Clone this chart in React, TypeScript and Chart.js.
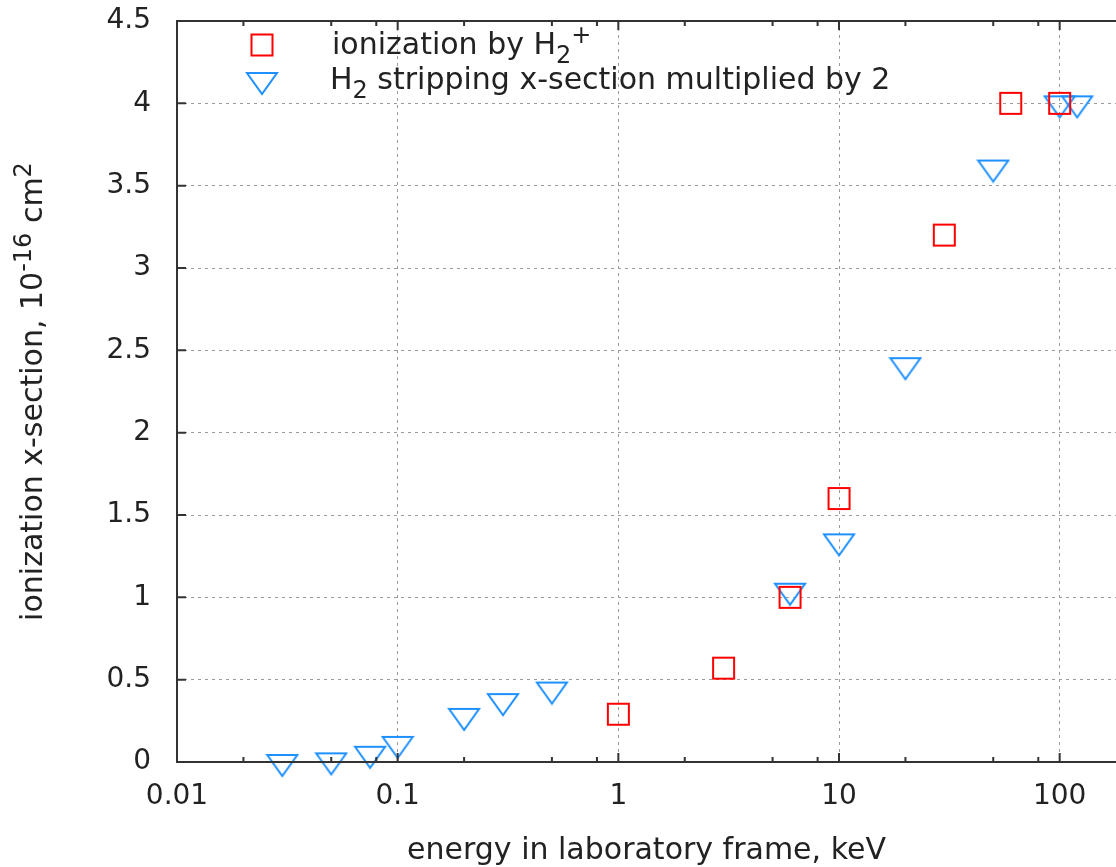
import { useEffect, useRef } from 'react';
import { Chart, registerables } from 'chart.js';

Chart.register(...registerables);

// ---- data ----
const energyIonization = [1, 3, 6, 10, 30, 60, 100];
const ionizationByH2p = [0.29, 0.57, 1.0, 1.6, 3.2, 4.0, 4.0];

const energyStripping = [0.03, 0.05, 0.075, 0.1, 0.2, 0.3, 0.5, 6, 10, 20, 50, 100, 120];
const strippingTimes2 = [0.0, 0.01, 0.05, 0.11, 0.28, 0.37, 0.44, 1.04, 1.34, 2.41, 3.61, 4.0, 4.0];

const xMajorTicks = [0.01, 0.1, 1, 10, 100];
const xMinorMultipliers = [2, 5, 8];
const yTicks = [0, 0.5, 1, 1.5, 2, 2.5, 3, 3.5, 4, 4.5];

const FONT = 'DejaVu Sans';
const FS_TICK = 28;
const FS_TEXT = 30;
const TEXT = '#222222';
const RED = '#ff0000';
const BLUE = '#1e90ff';

type Seg = { t: string; k?: 'sup' | 'sub' };

function drawRich(ctx: CanvasRenderingContext2D, segs: Seg[], x: number, y: number, F: number, align: 'left' | 'center') {
  const fontOf = (s: Seg) => `${s.k ? Math.round(F * 0.8) : F}px "${FONT}"`;
  const widths = segs.map((s) => {
    ctx.font = fontOf(s);
    return ctx.measureText(s.t).width;
  });
  const total = widths.reduce((a, b) => a + b, 0);
  let cx = align === 'center' ? x - total / 2 : x;
  ctx.textAlign = 'left';
  ctx.textBaseline = 'alphabetic';
  segs.forEach((s, i) => {
    ctx.font = fontOf(s);
    const dy = s.k === 'sup' ? -0.37 * F : s.k === 'sub' ? 0.3 * F : 0;
    ctx.fillText(s.t, cx, y + dy);
    cx += widths[i];
  });
}

function makeSquare(): HTMLCanvasElement {
  const c = document.createElement('canvas');
  c.width = 25;
  c.height = 25;
  const g = c.getContext('2d')!;
  g.strokeStyle = RED;
  g.lineWidth = 2;
  g.strokeRect(2, 2, 21, 21);
  return c;
}

function makeTriangle(): HTMLCanvasElement {
  const c = document.createElement('canvas');
  c.width = 34;
  c.height = 32;
  const g = c.getContext('2d')!;
  g.strokeStyle = BLUE;
  g.lineWidth = 2;
  g.beginPath();
  g.moveTo(2, 9);
  g.lineTo(32, 9);
  g.lineTo(17, 30);
  g.closePath();
  g.stroke();
  return c;
}

export default function App() {
  const ref = useRef<HTMLCanvasElement | null>(null);

  useEffect(() => {
    if (!ref.current) return;
    const square = makeSquare();
    const tri = makeTriangle();

    const framePlugin = {
      id: 'frame',
      afterDatasetsDraw(chart: any) {
        const { ctx, chartArea: a, scales } = chart;
        const xs = scales.x;
        const ys = scales.y;
        ctx.save();
        ctx.strokeStyle = '#333333';
        ctx.lineWidth = 2;
        ctx.beginPath();
        xMajorTicks.forEach((v) => {
          const px = xs.getPixelForValue(v);
          ctx.moveTo(px, a.bottom);
          ctx.lineTo(px, a.bottom - 9);
          ctx.moveTo(px, a.top);
          ctx.lineTo(px, a.top + 9);
          xMinorMultipliers.forEach((m) => {
            const mv = v * m;
            if (mv > xs.max) return;
            const mp = xs.getPixelForValue(mv);
            ctx.moveTo(mp, a.bottom);
            ctx.lineTo(mp, a.bottom - 5);
            ctx.moveTo(mp, a.top);
            ctx.lineTo(mp, a.top + 5);
          });
        });
        yTicks.forEach((v) => {
          const py = ys.getPixelForValue(v);
          ctx.moveTo(a.left, py);
          ctx.lineTo(a.left + 9, py);
        });
        ctx.stroke();
        ctx.beginPath();
        ctx.moveTo(a.right + 2, a.top);
        ctx.lineTo(a.left, a.top);
        ctx.lineTo(a.left, a.bottom);
        ctx.lineTo(a.right + 2, a.bottom);
        ctx.stroke();
        ctx.restore();
      },
      afterDraw(chart: any) {
        const { ctx, chartArea: a } = chart;
        ctx.save();
        ctx.fillStyle = TEXT;
        // legend
        ctx.drawImage(square, 262 - square.width / 2, 45 - square.height / 2);
        drawRich(ctx, [{ t: 'ionization by H' }, { t: '2', k: 'sub' }, { t: '+', k: 'sup' }], 332, 54, FS_TEXT, 'left');
        ctx.drawImage(tri, 262 - tri.width / 2, 80 - tri.height / 2);
        drawRich(ctx, [{ t: 'H' }, { t: '2', k: 'sub' }, { t: ' stripping x-section multiplied by 2' }], 330, 89, FS_TEXT, 'left');
        // x title
        drawRich(ctx, [{ t: 'energy in laboratory frame, keV' }], (a.left + a.right) / 2, 859, FS_TEXT, 'center');
        // y title
        ctx.translate(42, (a.top + a.bottom) / 2);
        ctx.rotate(-Math.PI / 2);
        drawRich(
          ctx,
          [{ t: 'ionization x-section, 10' }, { t: '-16', k: 'sup' }, { t: ' cm' }, { t: '2', k: 'sup' }],
          0,
          0,
          FS_TEXT,
          'center'
        );
        ctx.restore();
      },
    };

    const chart = new Chart(ref.current, {
      type: 'scatter',
      data: {
        datasets: [
          {
            label: 'ionization by H2+',
            data: energyIonization.map((e, i) => ({ x: e, y: ionizationByH2p[i] })),
            pointStyle: square as any,
            pointRadius: 12,
            borderColor: RED,
            backgroundColor: RED,
            clip: false as any,
          },
          {
            label: 'H2 stripping x-section multiplied by 2',
            data: energyStripping.map((e, i) => ({ x: e, y: strippingTimes2[i] })),
            pointStyle: tri as any,
            pointRadius: 12,
            borderColor: BLUE,
            backgroundColor: BLUE,
            clip: false as any,
          },
        ],
      },
      options: {
        responsive: false,
        animation: false,
        events: [],
        layout: { autoPadding: false, padding: { top: 21, left: 0, right: 0, bottom: 0 } },
        plugins: {
          legend: { display: false },
          tooltip: { enabled: false },
          title: { display: false },
        },
        scales: {
          x: {
            type: 'logarithmic',
            min: 0.01,
            max: 180,
            afterBuildTicks: (s: any) => {
              s.ticks = xMajorTicks.map((v) => ({ value: v, major: true }));
            },
            afterFit: (s: any) => {
              s.height = 105;
              s.paddingLeft = 0;
              s.paddingRight = 0;
            },
            ticks: {
              autoSkip: false,
              maxRotation: 0,
              padding: 18,
              color: TEXT,
              font: { family: FONT, size: FS_TICK },
              callback: (v: any) => String(v),
            },
            grid: {
              color: '#9a9a9a',
              lineWidth: 1,
              drawTicks: false,
            },
            border: { display: false, dash: [3, 4] },
          },
          y: {
            type: 'linear',
            min: 0,
            max: 4.5,
            afterBuildTicks: (s: any) => {
              s.ticks = yTicks.map((v) => ({ value: v }));
            },
            afterFit: (s: any) => {
              s.width = 177;
              s.paddingTop = 0;
              s.paddingBottom = 0;
            },
            ticks: {
              padding: 26,
              color: TEXT,
              font: { family: FONT, size: FS_TICK },
              callback: (v: any) => String(v),
            },
            grid: {
              color: '#9a9a9a',
              lineWidth: 1,
              drawTicks: false,
            },
            border: { display: false, dash: [3, 4] },
          },
        },
      },
      plugins: [framePlugin],
    });

    return () => chart.destroy();
  }, []);

  return (
    <div style={{ position: 'fixed', left: 0, top: 0, width: 1116, height: 867, background: '#ffffff' }}>
      <canvas ref={ref} width={1116} height={867} style={{ display: 'block' }} />
    </div>
  );
}
